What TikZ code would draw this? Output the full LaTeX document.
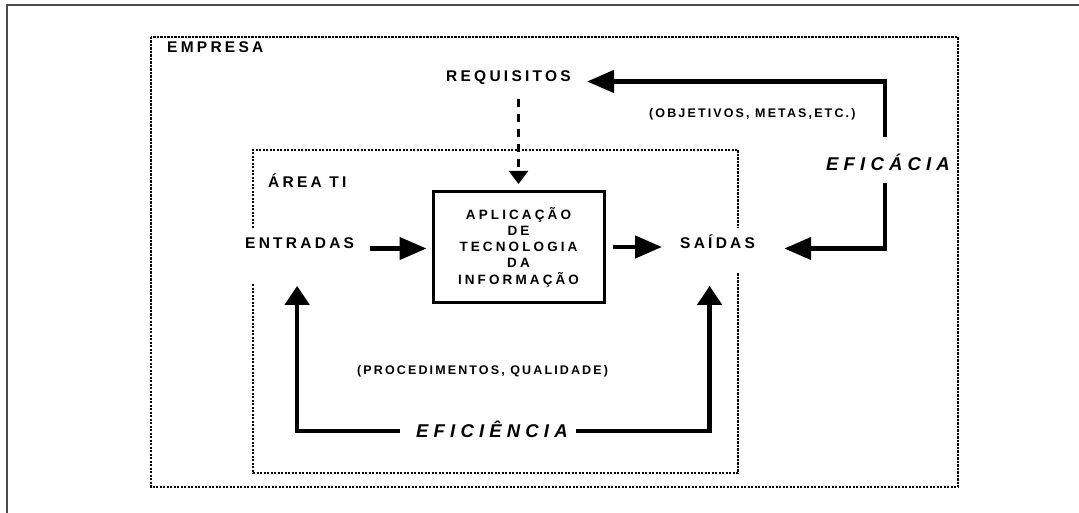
\documentclass[tikz,border=0pt]{standalone}
\usepackage{fontspec}
\setmainfont{Liberation Sans}
\usetikzlibrary{arrows.meta,calc}
\newcommand\lblfont{\fontsize{15.5}{17}\selectfont\bfseries\addfontfeature{LetterSpace=21}}
\newcommand\boxfont{\fontsize{13.5}{16.3}\selectfont\bfseries\addfontfeature{LetterSpace=23}}
\newcommand\smallfont{\fontsize{12.5}{14}\selectfont\bfseries\addfontfeature{LetterSpace=17}}
\newcommand\bigfont{\fontsize{18.5}{20}\selectfont\bfseries\itshape\addfontfeature{LetterSpace=28}}
\tikzset{
  lbl/.style={inner sep=0pt, anchor=base west, font=\lblfont},
  smalllbl/.style={inner sep=0pt, anchor=base west, font=\smallfont},
  biglbl/.style={inner sep=0pt, anchor=base west, font=\bigfont},
  procbox/.style={draw, line width=3pt, minimum width=171pt, minimum height=111pt, inner sep=0pt, align=center, font=\boxfont},
  dotframe/.style={line width=2.9pt, dash pattern=on 2.3pt off 1.2pt},
  fatH/.style={line width=4.5pt, -{Triangle[length=27pt,width=22pt]}},
  fatV/.style={line width=4.5pt, -{Triangle[length=19pt,width=24pt]}},
  dasharr/.style={line width=2.5pt, dash pattern=on 8pt off 7pt, -{Triangle[length=13pt,width=19pt]}},
  pageframe/.style={line width=1.3pt, draw=black!70}
}
\begin{document}
\begin{tikzpicture}[x=1pt,y=-1pt]
\useasboundingbox (0,0) rectangle (1079,513);
\fill[white] (0,0) rectangle (1079,513);
% page frame
\draw[pageframe] (7,513) -- (7,5) -- (1079,5);
% outer dotted frame (EMPRESA)
\draw[dotframe] (151,37) rectangle (958,487);
% inner dotted frame (AREA TI)
\draw[dotframe] (253,228) -- (253,150) -- (738,150) -- (738,228);
\draw[dotframe] (253,284) -- (253,473) -- (738,473) -- (738,273);
% labels
\node[lbl] (emp) at (167,52.5) {EMPRESA};
\node[lbl] (req) at (446,81.5) {REQUISITOS};
\node[lbl] (area) at (268,187.5) {ÁREA TI};
\node[lbl] (entr) at (245,248.5) {ENTRADAS};
\node[lbl] (sai) at (680,248.5) {SAÍDAS};
\node[procbox] (box) at (518.5,247) {APLICAÇÃO\\DE\\TECNOLOGIA\\DA\\INFORMAÇÃO};
\node[smalllbl] (obj) at (649,117.5) {(OBJETIVOS, METAS,ETC.)};
\node[smalllbl] (proc) at (357,374.5) {(PROCEDIMENTOS, QUALIDADE)};
\node[biglbl] (efa) at (826,170.5) {EFICÁCIA};
\node[biglbl] (efi) at (416,437.5) {EFICIÊNCIA};
% free ends of the feedback loops
\coordinate (efaT) at (885,137);
\coordinate (efaB) at (885,183);
\coordinate (efiL) at (400,431);
\coordinate (efiR) at (576,431);
% connectors
\draw[dasharr, shorten >=6pt] ($(req.south -| box.north)+(0,14)$) -- (box.north);
\draw[fatH, shorten >=5pt] ([xshift=16pt]entr.base east) -- (entr.base east -| box.west);
\draw[fatH, shorten >=18pt] ([xshift=7pt]box.east) -- (box.east -| sai.west);
\draw[fatH, shorten >=16pt] (efaT) |- (req.base east);
\draw[fatH, shorten >=29pt] (efaB) |- (sai.base east);
\draw[fatV, shorten >=37pt] (efiL) -| ([xshift=-2.5pt]entr.south);
\draw[fatV, shorten >=37pt] (efiR) -| ([xshift=-8pt]sai.south);
\end{tikzpicture}
\end{document}
